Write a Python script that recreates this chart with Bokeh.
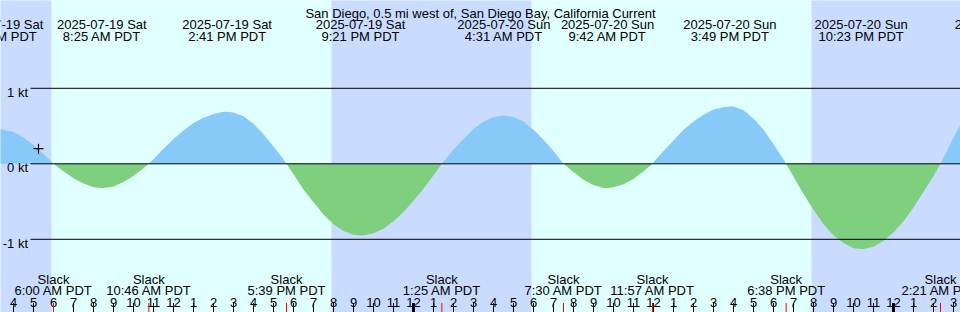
import math
import pandas as pd
from bokeh.plotting import figure
from bokeh.models import Range1d
from bokeh.embed import file_html
from bokeh.resources import INLINE
from bokeh.core.properties import value

TITLE = "San Diego, 0.5 mi west of, San Diego Bay, California Current"

# ---------------- data ----------------
# current speed in knots, read every 30 minutes from 2025-07-19 03:00 PDT
sample_start = "2025-07-19 03:00"
sample_step_hours = 0.5
speed_jul19 = [0.45, 0.45, 0.42, 0.35, 0.25, 0.13, 0.00, -0.10, -0.19, -0.26,
               -0.31, -0.32, -0.30, -0.24, -0.16, -0.06, 0.06, 0.20, 0.33, 0.44,
               0.54, 0.61, 0.66, 0.69, 0.68, 0.63, 0.53, 0.39, 0.23, 0.06,
               -0.14, -0.34, -0.51, -0.67, -0.80, -0.89, -0.94, -0.95, -0.92, -0.86,
               -0.76, -0.64]
speed_jul20 = [-0.49, -0.33, -0.15, 0.03, 0.19, 0.33, 0.46, 0.56, 0.62, 0.64,
               0.62, 0.56, 0.45, 0.32, 0.17, 0.00, -0.11, -0.21, -0.28, -0.32,
               -0.31, -0.27, -0.20, -0.10, 0.02, 0.17, 0.31, 0.45, 0.56, 0.65,
               0.72, 0.75, 0.76, 0.71, 0.60, 0.45, 0.26, 0.06, -0.17, -0.40,
               -0.61, -0.80, -0.95, -1.05, -1.12, -1.13, -1.10, -1.02]
speed_jul21 = [-0.91, -0.76, -0.58, -0.37, -0.16, 0.08, 0.35, 0.59, 0.80]

# slack water events
slack_times = ["2025-07-19 06:00", "2025-07-19 10:46", "2025-07-19 17:39",
               "2025-07-20 01:25", "2025-07-20 07:30", "2025-07-20 11:57",
               "2025-07-20 18:38", "2025-07-21 02:21"]
slack_labels = ["6:00 AM PDT", "10:46 AM PDT", "5:39 PM PDT", "1:25 AM PDT",
                "7:30 AM PDT", "11:57 AM PDT", "6:38 PM PDT", "2:21 AM PDT"]

# max flood / max ebb events
peak_times = ["2025-07-19 03:15", "2025-07-19 08:25", "2025-07-19 14:41",
              "2025-07-19 21:21", "2025-07-20 04:31", "2025-07-20 09:42",
              "2025-07-20 15:49", "2025-07-20 22:23", "2025-07-21 05:27"]
peak_speed = [0.46, -0.32, 0.69, -0.95, 0.64, -0.32, 0.76, -1.13, 1.05]
peak_dates = ["2025-07-19 Sat", "2025-07-19 Sat", "2025-07-19 Sat", "2025-07-19 Sat",
              "2025-07-20 Sun", "2025-07-20 Sun", "2025-07-20 Sun", "2025-07-20 Sun",
              "2025-07-21 Mon"]
peak_labels = ["3:15 AM PDT", "8:25 AM PDT", "2:41 PM PDT", "9:21 PM PDT",
               "4:31 AM PDT", "9:42 AM PDT", "3:49 PM PDT", "10:23 PM PDT",
               "5:27 AM PDT"]

sunrise_times = ["2025-07-19 05:54", "2025-07-20 05:54"]
sunset_times = ["2025-07-19 19:54", "2025-07-20 19:54"]

now_time = "2025-07-19 05:15"
now_speed = 0.20

y_levels = [1, 0, -1]
y_labels = ["1 kt", "0 kt", "-1 kt"]

window_start = "2025-07-19 03:21"
window_hours = 48

# ---------------- style ----------------
W, H = 960, 312
PX_PER_KT = 75.5
ZERO_ROW = 163.3
FONT = value("Liberation Sans")
FS = "13px"
DAY = "#e0ffff"
NIGHT = "#c9dcff"
FLOOD = "#87cafa"
EBB = "#7ecf7e"

T0 = pd.Timestamp("2025-07-19 00:00")


def hrs(s):
    return (pd.Timestamp(s) - T0) / pd.Timedelta(hours=1)


x_start = hrs(window_start)
x_end = x_start + window_hours
px_per_hour = W / window_hours


def X(px):
    return x_start + px / px_per_hour


def Y(py):
    return (ZERO_ROW - py) / PX_PER_KT


p = figure(width=W, height=H, x_range=Range1d(x_start, x_end),
           y_range=Range1d(Y(H), Y(0)), output_backend="svg",
           toolbar_location=None, x_axis_location=None, y_axis_location=None,
           min_border=0, outline_line_color=None, background_fill_color=DAY,
           border_fill_color=DAY)
p.grid.visible = False

# night bands
rise = [hrs(t) for t in sunrise_times]
sets = [hrs(t) for t in sunset_times]
n_left = [x_start - 24] + sets
n_right = rise + [x_end + 24]
p.quad(left=n_left, right=n_right, bottom=Y(H) - 1, top=Y(0) + 1,
       fill_color=NIGHT, line_color=None)

# curve points
speeds = speed_jul19 + speed_jul20 + speed_jul21
s0 = hrs(sample_start)
pts = [(s0 + i * sample_step_hours, v) for i, v in enumerate(speeds)]
pts += [(hrs(t), 0.0) for t in slack_times]
pts += [(hrs(t), v) for t, v in zip(peak_times, peak_speed)]
pts.sort()
xs = [a for a, b in pts]
vs = [b for a, b in pts]
p.varea(x=xs, y1=[0] * len(xs), y2=[max(v, 0) for v in vs], fill_color=FLOOD)
p.varea(x=xs, y1=[min(v, 0) for v in vs], y2=[0] * len(xs), fill_color=EBB)

# reference lines and labels
p.segment(x0=[X(30)] * len(y_levels), x1=[x_end] * len(y_levels),
          y0=y_levels, y1=y_levels, line_color="black", line_width=1)
p.text(x=[X(27.5)] * len(y_levels), y=[lv - 4 / PX_PER_KT for lv in y_levels],
       text=y_labels, text_font=FONT, text_font_size=FS, text_align="right",
       text_baseline="alphabetic", text_color="black")

# now marker
p.scatter(x=[hrs(now_time)], y=[now_speed], marker="cross", size=10,
          line_color="black", line_width=1.2)

# title
p.text(x=[X(W / 2)], y=[Y(12.5)], text=[TITLE], text_font=FONT, text_font_size=FS,
       text_align="center", text_baseline="alphabetic", text_color="black")

# peak labels
pk_x = [hrs(t) for t in peak_times]
p.text(x=pk_x, y=[Y(24.3)] * len(pk_x), text=peak_dates, text_font=FONT,
       text_font_size=FS, text_align="center", text_baseline="alphabetic",
       text_color="black")
p.text(x=pk_x, y=[Y(36.3)] * len(pk_x), text=peak_labels, text_font=FONT,
       text_font_size=FS, text_align="center", text_baseline="alphabetic",
       text_color="black")

# slack labels
sl_x = [hrs(t) for t in slack_times]
p.text(x=sl_x, y=[Y(278.5)] * len(sl_x), text=["Slack"] * len(sl_x), text_font=FONT,
       text_font_size=FS, text_align="center", text_baseline="alphabetic",
       text_color="black")
p.text(x=sl_x, y=[Y(290)] * len(sl_x), text=slack_labels, text_font=FONT,
       text_font_size=FS, text_align="center", text_baseline="alphabetic",
       text_color="black")

# hour ticks
hours = list(range(math.ceil(x_start), math.floor(x_end) + 1))
hour_txt = [str((h % 12) or 12) for h in hours]
p.text(x=hours, y=[Y(301.7)] * len(hours), text=hour_txt, text_font=FONT,
       text_font_size=FS, text_align="center", text_baseline="alphabetic",
       text_color="black")
p.segment(x0=hours, x1=hours, y0=[Y(302.5)] * len(hours), y1=[Y(313)] * len(hours),
          line_color="black", line_width=1)
mid = [h for h in hours if h % 24 == 0]
p.segment(x0=mid, x1=mid, y0=[Y(302.5)] * len(mid), y1=[Y(313)] * len(mid),
          line_color="black", line_width=3)
p.segment(x0=sl_x, x1=sl_x, y0=[Y(302.5)] * len(sl_x), y1=[Y(313)] * len(sl_x),
          line_color="red", line_width=1)

open("out.html", "w").write(file_html(p, INLINE))
